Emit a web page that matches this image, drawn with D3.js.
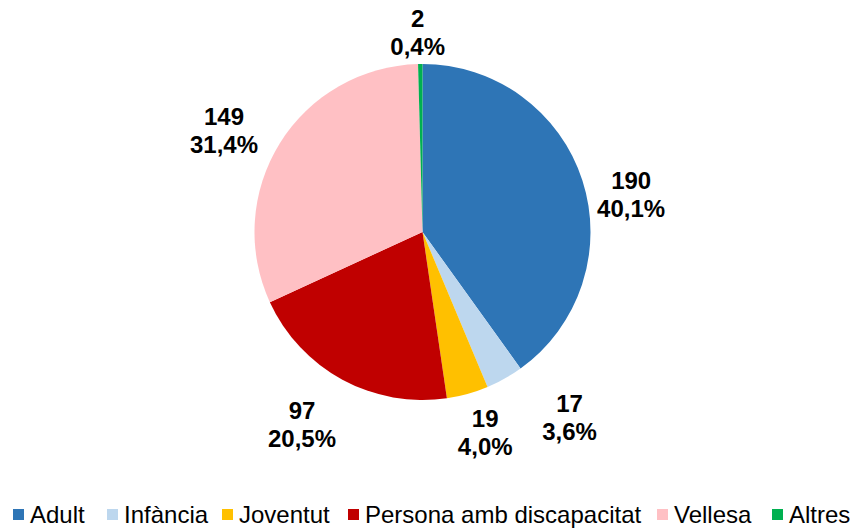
<!DOCTYPE html>
<html>
<head>
<meta charset="utf-8">
<script src="https://cdn.jsdelivr.net/npm/d3@7"></script>
<style>
  body { margin: 0; background: #fff; }
  svg { display: block; }
</style>
</head>
<body>
<div id="chart"></div>
<script>
// data
var categories = ["Adult", "Infància", "Joventut", "Persona amb discapacitat", "Vellesa", "Altres"];
var counts = [190, 17, 19, 97, 149, 2];
var percents = ["40,1%", "3,6%", "4,0%", "20,5%", "31,4%", "0,4%"];
var colors = ["#2E75B6", "#BDD7EE", "#FFC000", "#C00000", "#FFC0C4", "#00B050"];

var svgWidth = 854;
var svgHeight = 530;

var cx = 422.5, cy = 232, radius = 168;

// label nudges (layout only), relative to the label arc centroid
var labelRadius = 215;
var labelNudge = [[4, 28], [42, -3], [5, -7], [-18, 3], [-16, 12], [-2, 15]];

var svg = d3.select("#chart")
    .append("svg")
    .attr("width", svgWidth)
    .attr("height", svgHeight);

var pieGroup = svg.append("g")
    .attr("transform", `translate(${cx}, ${cy})`);

var pie = d3.pie().sort(null).value(d => d);
var arcs = pie(counts);

var arc = d3.arc().innerRadius(0).outerRadius(radius);
var labelArc = d3.arc().innerRadius(labelRadius).outerRadius(labelRadius);

pieGroup.selectAll("path")
    .data(arcs)
    .enter()
    .append("path")
    .attr("d", arc)
    .attr("fill", (d, i) => colors[i]);

// data labels
var labels = pieGroup.selectAll("text.lbl")
    .data(arcs)
    .enter()
    .append("text")
    .attr("class", "lbl")
    .attr("transform", function (d, i) {
        var c = labelArc.centroid(d);
        return `translate(${c[0] + labelNudge[i][0]}, ${c[1] + labelNudge[i][1]})`;
    })
    .attr("text-anchor", "middle")
    .style("font-family", "'Liberation Sans', Arial, sans-serif")
    .style("font-weight", "bold")
    .style("font-size", "24px")
    .attr("fill", "#000");

labels.append("tspan")
    .attr("x", 0)
    .attr("y", -5)
    .text((d, i) => counts[i]);

labels.append("tspan")
    .attr("x", 0)
    .attr("y", 23)
    .text((d, i) => percents[i]);

// legend
var legendX = [13, 107, 222, 348, 657, 772];
var legend = svg.append("g")
    .attr("transform", "translate(0, 509)");

var items = legend.selectAll("g")
    .data(categories)
    .enter()
    .append("g")
    .attr("transform", (d, i) => `translate(${legendX[i]}, 0)`);

items.append("rect")
    .attr("x", 0)
    .attr("y", 0)
    .attr("width", 11)
    .attr("height", 11)
    .attr("fill", (d, i) => colors[i]);

items.append("text")
    .attr("x", 17)
    .attr("y", 14)
    .style("font-family", "'Liberation Sans', Arial, sans-serif")
    .style("font-size", "24px")
    .attr("fill", "#000")
    .text(d => d);
</script>
</body>
</html>
